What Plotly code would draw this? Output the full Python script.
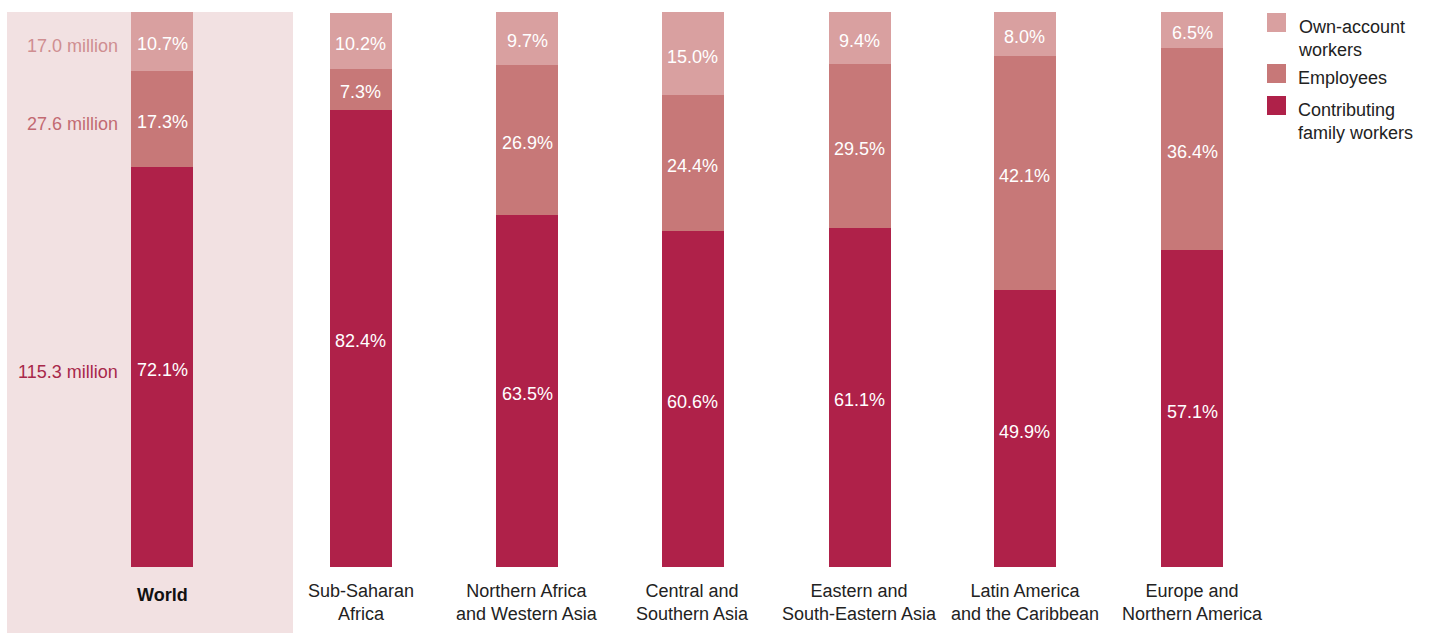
import plotly.graph_objects as go

regions = ["World", "Sub-Saharan<br>Africa", "Northern Africa<br>and Western Asia", "Central and<br>Southern Asia",
           "Eastern and<br>South-Eastern Asia", "Latin America<br>and the Caribbean", "Europe and<br>Northern America"]
contributing = [72.1, 82.4, 63.5, 60.6, 61.1, 49.9, 57.1]
employees = [17.3, 7.3, 26.9, 24.4, 29.5, 42.1, 36.4]
own_account = [10.7, 10.2, 9.7, 15.0, 9.4, 8.0, 6.5]
world_millions = ["115.3 million", "27.6 million", "17.0 million"]  # contributing, employees, own-account

series_names = ["Contributing<br>family workers", "Employees", "Own-account<br>workers"]
colors = ["#AF2149", "#C77878", "#D9A0A0"]
label_colors = ["#A8284A", "#C26A72", "#CF8E91"]

# layout positions (horizontal centres of bars, in pixel-like axis units)
x_pos = [162, 360.5, 527, 692.5, 859.5, 1024.5, 1192]
BAR_W = 62
FONT = "Liberation Sans, Arial, Helvetica, sans-serif"
FS = 18

fig = go.Figure()
for name, vals, col in zip(series_names, [contributing, employees, own_account], colors):
    fig.add_trace(go.Bar(
        x=x_pos, y=vals, width=BAR_W, name=name, marker=dict(color=col, line=dict(width=0)),
        showlegend=False, hoverinfo="skip"))

annotations = []
stack = [contributing, employees, own_account]
# in-bar percentage labels and World million labels
for j, (vals, txt, col) in enumerate(zip(stack, world_millions, label_colors)):
    for i, xp in enumerate(x_pos):
        base = sum(s[i] for s in stack[:j])
        mid = base + vals[i] / 2
        annotations.append(dict(x=xp, y=mid, xref="x", yref="y", text=f"{vals[i]:.1f}%",
                                showarrow=False, xanchor="center", yanchor="middle", yshift=-3,
                                font=dict(color="white", size=FS, family=FONT)))
    mid0 = sum(s[0] for s in stack[:j]) + vals[0] / 2
    annotations.append(dict(x=x_pos[0] - BAR_W / 2 - 11, y=mid0, xref="x", yref="y", text=txt,
                            showarrow=False, xanchor="right", yanchor="middle", yshift=-5,
                            font=dict(color=col, size=FS, family=FONT)))

# category labels
for i, (xp, lab) in enumerate(zip(x_pos, regions)):
    if i == 0:
        annotations.append(dict(x=xp, y=0, xref="x", yref="y", text="<b>" + lab + "</b>", showarrow=False,
                                xanchor="center", yanchor="top", yshift=-16,
                                font=dict(color="#111", size=FS, family=FONT)))
    else:
        annotations.append(dict(x=xp, y=0, xref="x", yref="y", text=lab, showarrow=False,
                                xanchor="center", yanchor="top", yshift=-12,
                                font=dict(color="#222", size=FS, family=FONT)))

# manual legend
shapes = []
leg_items = [("Own-account<br>workers", colors[2], 13), ("Employees", colors[1], 64),
             ("Contributing<br>family workers", colors[0], 96)]
for txt, col, ytop in leg_items:
    shapes.append(dict(type="rect", xref="x", yref="paper", x0=1267, x1=1286,
                       y0=1 - (ytop + 19 - 12) / 555, y1=1 - (ytop - 12) / 555,
                       fillcolor=col, line=dict(width=0)))
    annotations.append(dict(x=1296, y=1 - (ytop - 10) / 555, xref="x", yref="paper", text=txt, showarrow=False,
                            xanchor="left", yanchor="top", align="left",
                            font=dict(color="#222", size=FS, family=FONT)))

# shaded World background
shapes.append(dict(type="rect", xref="x", yref="paper", x0=7, x1=293, y0=-66 / 555, y1=1,
                   fillcolor="#F2E1E2", line=dict(width=0), layer="below"))

fig.update_layout(
    barmode="stack", width=1436, height=633,
    margin=dict(l=0, r=0, t=12, b=66),
    paper_bgcolor="white", plot_bgcolor="rgba(0,0,0,0)",
    xaxis=dict(range=[0, 1436], visible=False, fixedrange=True),
    yaxis=dict(range=[0, 100], visible=False, fixedrange=True),
    annotations=annotations, shapes=shapes, showlegend=False,
    font=dict(family=FONT, size=FS),
)
fig.write_html("out.html", config={"displayModeBar": False},
               post_script="document.body.style.margin='0';document.body.style.overflow='hidden';")
